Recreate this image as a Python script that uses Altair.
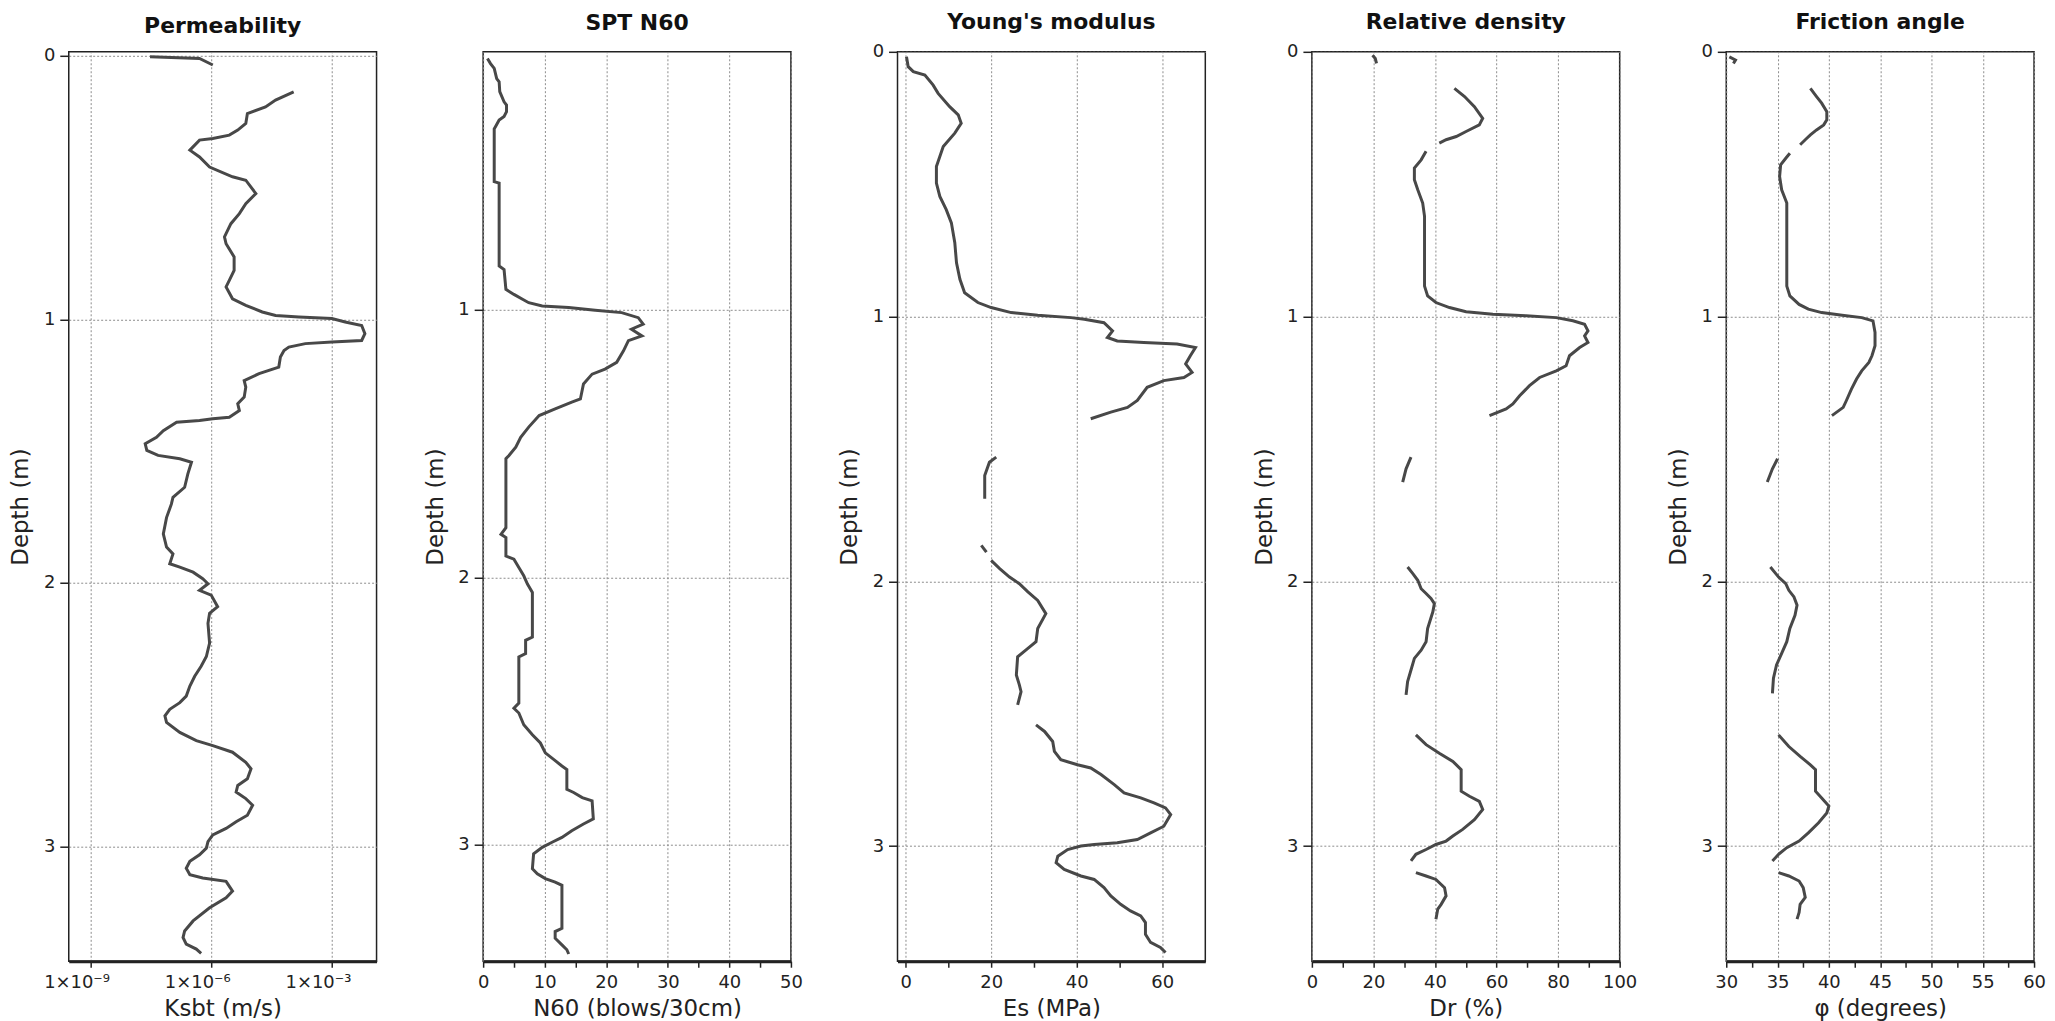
import altair as alt
import pandas as pd

FONT = "DejaVu Sans"
LINE = "#484848"

# ---------------- data (depth in m, value) ----------------
# Permeability: log10 of Ksbt (m/s)
perm_seg1 = [(0.004, -7.52), (0.010, -6.29), (0.035, -5.96)]
perm_seg2 = [
    (0.137, -3.95), (0.168, -4.40), (0.194, -4.65), (0.219, -5.10), (0.257, -5.14), (0.282, -5.34),
    (0.301, -5.55), (0.314, -5.96), (0.320, -6.29), (0.358, -6.53), (0.384, -6.29), (0.422, -6.04),
    (0.459, -5.47), (0.472, -5.14), (0.523, -4.89), (0.561, -5.14), (0.599, -5.30), (0.637, -5.51),
    (0.687, -5.67), (0.713, -5.63), (0.763, -5.43), (0.814, -5.43), (0.852, -5.55), (0.877, -5.63),
    (0.922, -5.47), (0.947, -5.14), (0.972, -4.73), (0.985, -4.40), (0.991, -3.82), (0.997, -3.00),
    (1.010, -2.67), (1.023, -2.26), (1.054, -2.18), (1.080, -2.26), (1.086, -3.00), (1.092, -3.66),
    (1.105, -4.07), (1.118, -4.19), (1.143, -4.28), (1.181, -4.32), (1.206, -4.81), (1.232, -5.18),
    (1.257, -5.14), (1.295, -5.18), (1.320, -5.34), (1.346, -5.30), (1.371, -5.55), (1.377, -5.96),
    (1.384, -6.29), (1.390, -6.86), (1.422, -7.19), (1.447, -7.36), (1.472, -7.64), (1.497, -7.60),
    (1.516, -7.32), (1.529, -6.78), (1.542, -6.49), (1.586, -6.58), (1.637, -6.66), (1.675, -6.95),
    (1.701, -6.99), (1.752, -7.11), (1.814, -7.19), (1.864, -7.11), (1.890, -6.95), (1.927, -7.03),
    (1.940, -6.78), (1.959, -6.45), (1.984, -6.21), (2.003, -6.08), (2.028, -6.29), (2.046, -6.00),
    (2.090, -5.84), (2.115, -6.04), (2.153, -6.08), (2.228, -6.04), (2.279, -6.12), (2.316, -6.25),
    (2.354, -6.41), (2.391, -6.53), (2.429, -6.62), (2.454, -6.78), (2.479, -7.03), (2.504, -7.15),
    (2.529, -7.11), (2.567, -6.78), (2.598, -6.37), (2.617, -5.96), (2.642, -5.47), (2.680, -5.14),
    (2.705, -5.01), (2.743, -5.10), (2.768, -5.34), (2.793, -5.38), (2.818, -5.14), (2.843, -4.97),
    (2.881, -5.10), (2.906, -5.38), (2.931, -5.63), (2.956, -5.96), (2.981, -6.08), (3.006, -6.12),
    (3.031, -6.29), (3.056, -6.53), (3.082, -6.62), (3.107, -6.53), (3.119, -6.21), (3.132, -5.63),
    (3.169, -5.47), (3.194, -5.63), (3.232, -6.04), (3.282, -6.45), (3.320, -6.66), (3.345, -6.70),
    (3.370, -6.62), (3.389, -6.37), (3.405, -6.25),
]

# SPT N60 (blows/30cm)
spt_seg1 = [
    (0.060, 0.7), (0.079, 1.2), (0.097, 1.8), (0.135, 2.2), (0.147, 2.6), (0.184, 2.7), (0.222, 3.4),
    (0.234, 3.8), (0.259, 3.8), (0.277, 3.4), (0.290, 2.6), (0.315, 2.0), (0.323, 1.8), (0.520, 1.8),
    (0.526, 2.6), (0.836, 2.6), (0.849, 3.4), (0.923, 3.7), (0.942, 5.0), (0.960, 6.4), (0.973, 7.4),
    (0.985, 9.6), (0.991, 13.9), (1.001, 18.2), (1.010, 22.5), (1.029, 25.2), (1.053, 26.0),
    (1.072, 24.1), (1.097, 25.8), (1.115, 23.6), (1.153, 22.8), (1.196, 21.7), (1.221, 19.8),
    (1.240, 17.7), (1.277, 16.3), (1.333, 15.8), (1.345, 14.4), (1.370, 11.7), (1.395, 9.1),
    (1.438, 7.4), (1.476, 6.1), (1.513, 5.3), (1.544, 4.2), (1.556, 3.7), (1.814, 3.7), (1.839, 2.9),
    (1.851, 3.7), (1.920, 3.7), (1.932, 5.0), (1.963, 5.8), (1.994, 6.6), (2.025, 7.2), (2.056, 8.0),
    (2.223, 8.0), (2.235, 6.9), (2.285, 6.9), (2.297, 5.8), (2.470, 5.8), (2.489, 5.0), (2.507, 5.8),
    (2.551, 6.6), (2.588, 8.0), (2.619, 9.3), (2.656, 10.1), (2.681, 11.5), (2.705, 12.8),
    (2.718, 13.6), (2.792, 13.6), (2.804, 14.7), (2.823, 16.1), (2.835, 17.7), (2.903, 17.9),
    (2.922, 16.3), (2.947, 14.4), (2.972, 12.8), (2.990, 11.2), (3.009, 9.6), (3.033, 8.2),
    (3.089, 8.0), (3.108, 8.8), (3.126, 10.1), (3.139, 11.7), (3.151, 12.8), (3.312, 12.8),
    (3.324, 11.7), (3.349, 11.7), (3.374, 12.8), (3.392, 13.6), (3.408, 13.9),
]

# Young's modulus Es (MPa)
es_seg1 = [
    (0.019, 0.2), (0.056, 0.6), (0.075, 1.8), (0.088, 4.5), (0.125, 6.4), (0.157, 7.6), (0.207, 10.3),
    (0.238, 12.3), (0.270, 13.0), (0.307, 11.5), (0.358, 8.8), (0.395, 8.0), (0.433, 7.2), (0.496, 7.2),
    (0.546, 8.0), (0.596, 9.5), (0.646, 10.7), (0.721, 11.5), (0.797, 11.9), (0.859, 12.7),
    (0.910, 13.8), (0.947, 16.9), (0.966, 20.0), (0.985, 24.7), (0.995, 30.9), (1.004, 38.7),
    (1.010, 41.8), (1.023, 46.4), (1.054, 48.4), (1.079, 47.2), (1.092, 49.5), (1.098, 55.7),
    (1.104, 63.5), (1.117, 67.8), (1.148, 66.6), (1.179, 65.5), (1.211, 67.0), (1.230, 65.1),
    (1.242, 60.4), (1.267, 56.5), (1.317, 54.2), (1.343, 51.9), (1.361, 48.0), (1.386, 43.3),
]
es_seg2 = [(1.531, 21.2), (1.550, 19.6), (1.600, 18.5), (1.688, 18.5)]
es_seg3 = [(1.864, 17.7), (1.890, 18.9)]
es_seg4 = [
    (1.921, 20.0), (1.952, 22.0), (1.984, 24.3), (2.009, 26.6), (2.040, 28.6), (2.072, 30.9),
    (2.122, 32.8), (2.178, 30.9), (2.228, 30.5), (2.253, 28.6), (2.285, 26.2), (2.354, 25.9),
    (2.391, 26.6), (2.417, 27.0), (2.467, 26.2),
]
es_seg5 = [
    (2.542, 30.5), (2.567, 32.5), (2.605, 34.4), (2.642, 34.8), (2.674, 36.3), (2.693, 40.2),
    (2.705, 43.3), (2.730, 45.7), (2.768, 48.8), (2.799, 51.1), (2.818, 55.0), (2.837, 58.1),
    (2.856, 60.8), (2.881, 62.0), (2.925, 60.4), (2.950, 57.3), (2.975, 54.2), (2.987, 49.5),
    (2.994, 44.1), (3.000, 41.0), (3.013, 37.9), (3.038, 35.6), (3.063, 35.2), (3.088, 37.1),
    (3.113, 41.0), (3.126, 44.1), (3.157, 46.4), (3.188, 48.0), (3.220, 50.3), (3.245, 52.6),
    (3.264, 55.0), (3.289, 56.1), (3.333, 56.1), (3.364, 57.3), (3.383, 59.6), (3.402, 60.8),
]

# Relative density Dr (%)
dr_seg1 = [(0.013, 19.7), (0.025, 20.6), (0.044, 21.0)]
dr_seg2 = [(0.138, 46.3), (0.169, 49.6), (0.207, 52.8), (0.251, 55.5), (0.276, 54.4), (0.301, 50.1),
           (0.320, 46.9), (0.332, 43.6), (0.345, 41.4)]
dr_seg3 = [
    (0.376, 37.1), (0.408, 35.5), (0.439, 33.3), (0.483, 33.3), (0.521, 34.4), (0.571, 36.0),
    (0.621, 36.6), (0.797, 36.6), (0.885, 36.6), (0.922, 37.6), (0.947, 40.3), (0.966, 44.7),
    (0.982, 50.1), (0.991, 58.8), (0.997, 69.6), (1.004, 79.4), (1.016, 84.8), (1.029, 88.6),
    (1.054, 89.7), (1.073, 88.6), (1.098, 89.7), (1.117, 87.0), (1.148, 83.7), (1.186, 82.6),
    (1.205, 79.4), (1.230, 74.0), (1.261, 70.7), (1.299, 67.5), (1.330, 65.3), (1.349, 63.1),
    (1.374, 57.7),
]
dr_seg4 = [(1.531, 32.2), (1.575, 30.6), (1.625, 29.5)]
dr_seg5 = [
    (1.946, 31.1), (1.971, 32.8), (1.996, 34.4), (2.028, 35.5), (2.046, 37.1), (2.065, 38.7),
    (2.084, 39.8), (2.115, 39.3), (2.178, 37.6), (2.228, 37.1), (2.260, 35.5), (2.291, 33.3),
    (2.335, 32.2), (2.379, 31.1), (2.429, 30.6),
]
dr_seg6 = [
    (2.580, 33.8), (2.617, 37.1), (2.649, 41.4), (2.680, 45.8), (2.711, 48.5), (2.793, 48.5),
    (2.812, 51.2), (2.831, 54.4), (2.862, 55.5), (2.900, 52.8), (2.937, 49.0), (2.962, 45.8),
    (2.981, 43.6), (2.994, 40.3), (3.013, 37.1), (3.031, 33.8), (3.056, 32.2),
]
dr_seg7 = [(3.100, 33.8), (3.113, 37.1), (3.126, 40.3), (3.157, 43.1), (3.188, 43.6), (3.220, 42.0),
           (3.238, 40.9), (3.276, 40.3)]

# Friction angle phi (degrees)
phi_seg1 = [(0.019, 30.3), (0.031, 30.9), (0.044, 30.7)]
phi_seg2 = [(0.138, 38.2), (0.169, 38.8), (0.194, 39.3), (0.226, 39.8), (0.257, 39.8), (0.276, 39.5),
            (0.295, 38.8), (0.314, 38.2), (0.332, 37.7), (0.351, 37.2)]
phi_seg3 = [
    (0.383, 36.2), (0.402, 35.8), (0.427, 35.3), (0.471, 35.2), (0.521, 35.4), (0.571, 35.9),
    (0.696, 35.9), (0.885, 35.9), (0.922, 36.2), (0.954, 37.1), (0.972, 38.0), (0.985, 39.3),
    (0.995, 41.3), (1.004, 43.2), (1.016, 44.3), (1.060, 44.5), (1.110, 44.5), (1.148, 44.2),
    (1.173, 43.9), (1.205, 43.2), (1.236, 42.7), (1.274, 42.2), (1.318, 41.7), (1.343, 41.4),
    (1.374, 40.3),
]
phi_seg4 = [(1.537, 35.0), (1.575, 34.5), (1.625, 34.0)]
phi_seg5 = [
    (1.946, 34.3), (1.984, 35.1), (2.009, 35.8), (2.034, 36.1), (2.059, 36.6), (2.090, 36.9),
    (2.128, 36.7), (2.178, 36.2), (2.228, 35.9), (2.272, 35.4), (2.316, 34.9), (2.366, 34.6),
    (2.423, 34.5),
]
phi_seg6 = [
    (2.580, 35.1), (2.624, 36.1), (2.661, 37.2), (2.693, 38.2), (2.711, 38.7), (2.793, 38.7),
    (2.818, 39.3), (2.849, 40.0), (2.875, 39.8), (2.912, 39.0), (2.950, 38.0), (2.981, 37.1),
    (3.006, 35.9), (3.031, 35.1), (3.056, 34.5),
]
phi_seg7 = [(3.100, 35.1), (3.113, 36.1), (3.132, 37.1), (3.157, 37.5), (3.194, 37.7), (3.220, 37.2),
            (3.251, 37.1), (3.276, 36.9)]

# tick labels
perm_tick_values = [1e-9, 1e-6, 1e-3]
perm_tick_labels = ["1×10⁻⁹", "1×10⁻⁶", "1×10⁻³"]

titles = ["Permeability", "SPT N60", "Young's modulus", "Relative density", "Friction angle"]
x_titles = ["Ksbt (m/s)", "N60 (blows/30cm)", "Es (MPa)", "Dr (%)", "φ (degrees)"]


# ---------------- helpers ----------------
def table(segments, transform=None):
    rows = []
    for s, seg in enumerate(segments):
        for d, v in seg:
            rows.append({"seg": s, "depth": d, "value": transform(v) if transform else v})
    return pd.DataFrame(rows)


GRID_COLOR = "#8c8c8c"
W, H = 309, 913
LABEL_SIZE = 18
AXIS_TITLE_SIZE = 23


def y_axis(values):
    return alt.Axis(
        title="Depth (m)", values=values, grid=True, gridColor=GRID_COLOR, gridDash=[2, 2],
        gridWidth=1, domain=False, tickSize=9, tickWidth=1.5, tickColor="#222",
        labelPadding=5, labelFontSize=LABEL_SIZE, labelColor="#222", minExtent=28, maxExtent=28,
        titlePadding=8, titleFontSize=AXIS_TITLE_SIZE, titleFontWeight="normal", titleColor="#222",
    )


def x_axis(title, values, minor_test=None, label_expr=None, **kw):
    args = dict(
        title=title, values=values, grid=True, gridColor=GRID_COLOR, gridDash=[2, 2], gridWidth=1,
        domain=True, domainColor="#222", domainWidth=3, tickSize=6, tickWidth=1.5, tickColor="#222",
        labelPadding=6, labelFontSize=LABEL_SIZE, labelColor="#222", titleFontSize=AXIS_TITLE_SIZE,
        titleFontWeight="normal", titleColor="#222", titlePadding=6, labelFlush=False,
    )
    if minor_test:
        args["gridOpacity"] = {"condition": {"test": minor_test, "value": 0}, "value": 1}
        args["labelExpr"] = f"({minor_test}) ? '' : datum.label"
    if label_expr:
        args["labelExpr"] = label_expr
    args.update(kw)
    return alt.Axis(**args)


def panel(title, df, xscale, xaxis, ydomain, yvalues, title_dy=0):
    return (
        alt.Chart(df, title=alt.TitleParams(
            title, fontSize=22, fontWeight="bold", font=FONT, anchor="middle", offset=9,
            dy=title_dy, color="#111"))
        .mark_line(color=LINE, strokeWidth=3, clip=True)
        .encode(
            x=alt.X("value:Q", scale=xscale, axis=xaxis),
            y=alt.Y("depth:Q", scale=alt.Scale(domain=ydomain, reverse=True, nice=False, zero=False),
                    axis=y_axis(yvalues)),
            detail="seg:N",
            order="depth:Q",
        )
        .properties(width=W, height=H)
    )


perm_expr = " : ".join(
    f"datum.value < {v * 10 ** 1.5:g} ? '{lab}'" for v, lab in zip(perm_tick_values[:-1], perm_tick_labels[:-1])
) + f" : '{perm_tick_labels[-1]}'"

p1 = panel(
    titles[0], table([perm_seg1, perm_seg2], lambda v: 10 ** v),
    alt.Scale(type="log", domain=[10 ** -9.54, 10 ** -1.89], nice=False),
    x_axis(x_titles[0], perm_tick_values, label_expr=perm_expr, labelOffset=-14),
    [-0.015, 3.435], [0, 1, 2, 3], title_dy=0,
)
p2 = panel(
    titles[1], table([spt_seg1]),
    alt.Scale(domain=[0, 50], nice=False, zero=False),
    x_axis(x_titles[1], list(range(0, 51, 5)), minor_test="datum.value % 10 != 0"),
    [0.035, 3.435], [1, 2, 3], title_dy=-8,
)
p3 = panel(
    titles[2], table([es_seg1, es_seg2, es_seg3, es_seg4, es_seg5]),
    alt.Scale(domain=[-1.9, 70.1], nice=False, zero=False),
    x_axis(x_titles[2], [0, 10, 20, 30, 40, 50, 60], minor_test="datum.value % 20 != 0"),
    [0, 3.435], [0, 1, 2, 3],
)
p4 = panel(
    titles[3], table([dr_seg1, dr_seg2, dr_seg3, dr_seg4, dr_seg5, dr_seg6, dr_seg7]),
    alt.Scale(domain=[0, 100], nice=False, zero=False),
    x_axis(x_titles[3], list(range(0, 101, 10)), minor_test="datum.value % 20 != 0"),
    [0, 3.435], [0, 1, 2, 3],
)
p5 = panel(
    titles[4], table([phi_seg1, phi_seg2, phi_seg3, phi_seg4, phi_seg5, phi_seg6, phi_seg7]),
    alt.Scale(domain=[30, 60], nice=False, zero=False),
    x_axis(x_titles[4], [30 + 2.5 * i for i in range(13)], minor_test="datum.value % 5 != 0"),
    [0, 3.435], [0, 1, 2, 3],
)

chart = (
    alt.hconcat(p1, p2, p3, p4, p5, spacing=107, bounds="flush")
    .properties(padding={"left": 1, "top": 0, "right": 0, "bottom": 0})
    .configure(font=FONT, background="white")
    .configure_view(stroke="#222", strokeWidth=1.5)
)

chart.save("out.html", embed_options={"renderer": "svg", "actions": False})
